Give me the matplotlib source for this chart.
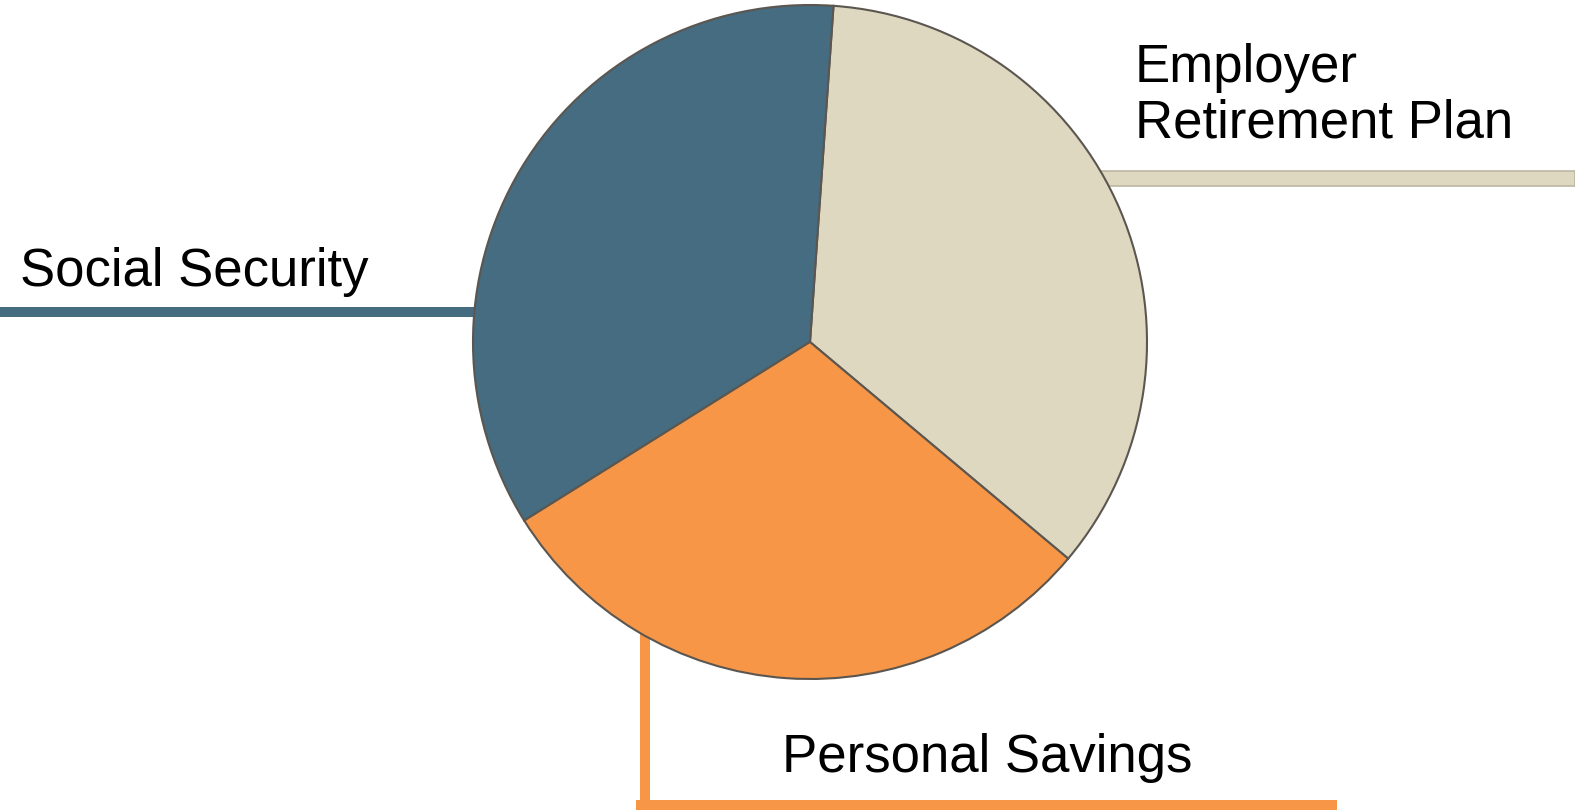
import matplotlib
matplotlib.use("Agg")
import matplotlib.pyplot as plt
from matplotlib.patches import Rectangle

# Sources of retirement income (share of pie)
labels = ['Employer\nRetirement Plan', 'Social Security', 'Personal Savings']
shares = [35, 35, 30]
colors = ['#DED8C1', '#456C80', '#F79646']

plt.rcParams['font.family'] = ['Liberation Sans', 'DejaVu Sans']

W, H = 1575, 810
fig = plt.figure(figsize=(W / 100, H / 100), dpi=100)
ax = fig.add_axes([0, 0, 1, 1])

# pie placed in pixel coordinates (y measured from the bottom)
cx, cy, r = 810, H - 342, 337
ax.pie(shares, colors=colors, startangle=-40, counterclock=True,
       center=(cx, cy), radius=r,
       wedgeprops=dict(edgecolor='#5B5650', linewidth=1.5, zorder=3))

# leader lines (drawn under the pie)
ax.add_patch(Rectangle((cx, H - 186), W - cx, 15, facecolor='#DED8C1',
                       edgecolor='#BDB6A2', linewidth=1.2, zorder=1))
ax.add_patch(Rectangle((0, H - 317), cx, 10, facecolor='#456C80',
                       edgecolor='none', zorder=1))
ax.add_patch(Rectangle((640, H - 805), 10, 805 - 400, facecolor='#F79646',
                       edgecolor='none', zorder=1))
ax.add_patch(Rectangle((636, 0), 1337 - 636, 10, facecolor='#F79646',
                       edgecolor='none', zorder=1))

# labels
fs = 38
ax.text(1135, H - 138, labels[0], fontsize=fs, ha='left', va='baseline',
        linespacing=1.15)
ax.text(20, H - 286, labels[1], fontsize=fs, ha='left', va='baseline')
ax.text(782, H - 772, labels[2], fontsize=fs, ha='left', va='baseline')

ax.set_xlim(0, W)
ax.set_ylim(0, H)
ax.set_aspect('equal')
ax.axis('off')

fig.savefig('out.png', dpi=100, facecolor='white')
